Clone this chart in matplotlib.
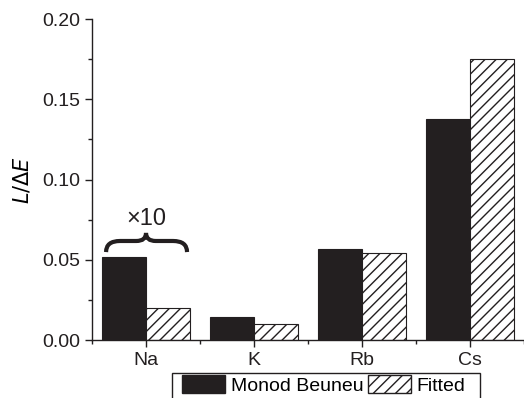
import matplotlib
matplotlib.use("Agg")
import matplotlib.pyplot as plt
import numpy as np
from matplotlib.path import Path
from matplotlib.patches import PathPatch, Patch, Rectangle
from matplotlib.ticker import MultipleLocator, FormatStrFormatter

plt.rcParams['font.family'] = ['Liberation Sans', 'DejaVu Sans']
plt.rcParams['hatch.linewidth'] = 1.0

# L / dE for each alkali metal
elements = ["Na", "K", "Rb", "Cs"]
monod_beuneu = [0.052, 0.0143, 0.0567, 0.138]
fitted = [0.0197, 0.0098, 0.0545, 0.175]

ink = "#231f20"
w = 0.41

fig = plt.figure(figsize=(5.24, 3.98), dpi=100)
ax = fig.add_axes([0.1756, 0.1457, 0.8244, 0.8065])

x = np.arange(len(elements))
ax.bar(x - w / 2, monod_beuneu, w, color=ink, edgecolor=ink, linewidth=0.8)
ax.bar(x + w / 2, fitted, w, color="white", edgecolor=ink, hatch="///", linewidth=0.8)

ax.set_xlim(-0.5, 3.5)
ax.set_ylim(0, 0.20)
ax.set_xticks(x)
ax.set_xticklabels(elements)
ax.xaxis.set_minor_locator(MultipleLocator(1, offset=0.5))
ax.yaxis.set_major_locator(MultipleLocator(0.05))
ax.yaxis.set_minor_locator(MultipleLocator(0.025))
ax.yaxis.set_major_formatter(FormatStrFormatter("%.2f"))
ax.tick_params(which="major", direction="out", length=5, width=1, labelsize=14, colors=ink)
ax.tick_params(which="minor", direction="out", length=3, width=1, colors=ink)
for s in ["top", "right"]:
    ax.spines[s].set_visible(False)
for s in ["left", "bottom"]:
    ax.spines[s].set_color(ink)
    ax.spines[s].set_linewidth(1.0)

ax.set_ylabel(r"$L/\Delta E$", fontsize=15, labelpad=7)

# curly brace over the Na pair
x0, x1 = -0.37, 0.38
xc = 0.0
yb, ym, yt = 0.0548, 0.0617, 0.0667
re, rc = 0.13, 0.09
verts = [(x0, yb), (x0, ym), (x0 + re, ym),
         (xc - rc, ym),
         (xc, ym), (xc, yt),
         (xc, ym), (xc + rc, ym),
         (x1 - re, ym),
         (x1, ym), (x1, yb)]
codes = [Path.MOVETO, Path.CURVE3, Path.CURVE3,
         Path.LINETO,
         Path.CURVE3, Path.CURVE3,
         Path.CURVE3, Path.CURVE3,
         Path.LINETO,
         Path.CURVE3, Path.CURVE3]
ax.add_patch(PathPatch(Path(verts, codes), facecolor="none", edgecolor=ink,
                       linewidth=3.0, capstyle="butt", clip_on=False))
ax.text(xc, 0.0717, "×10", ha="center", va="baseline", fontsize=17, color=ink)

handles = [Patch(facecolor=ink, edgecolor=ink, label="Monod Beuneu"),
           Patch(facecolor="white", edgecolor=ink, hatch="///", label="Fitted")]
fig.legend(handles=handles, loc="upper left", bbox_to_anchor=(182 / 524, 1 - 375 / 398),
           ncol=2, fontsize=14, frameon=False, handlelength=2.2, handleheight=1.05,
           handletextpad=0.3, columnspacing=0.25, borderpad=0, borderaxespad=0)
# open-bottomed legend frame
fig.add_artist(Rectangle((172 / 524, -0.05), (480 - 172) / 524, 0.05 + 1 - 373 / 398,
                         transform=fig.transFigure, facecolor="none", edgecolor=ink,
                         linewidth=1.0, clip_on=False))

fig.savefig("out.png", dpi=100)
